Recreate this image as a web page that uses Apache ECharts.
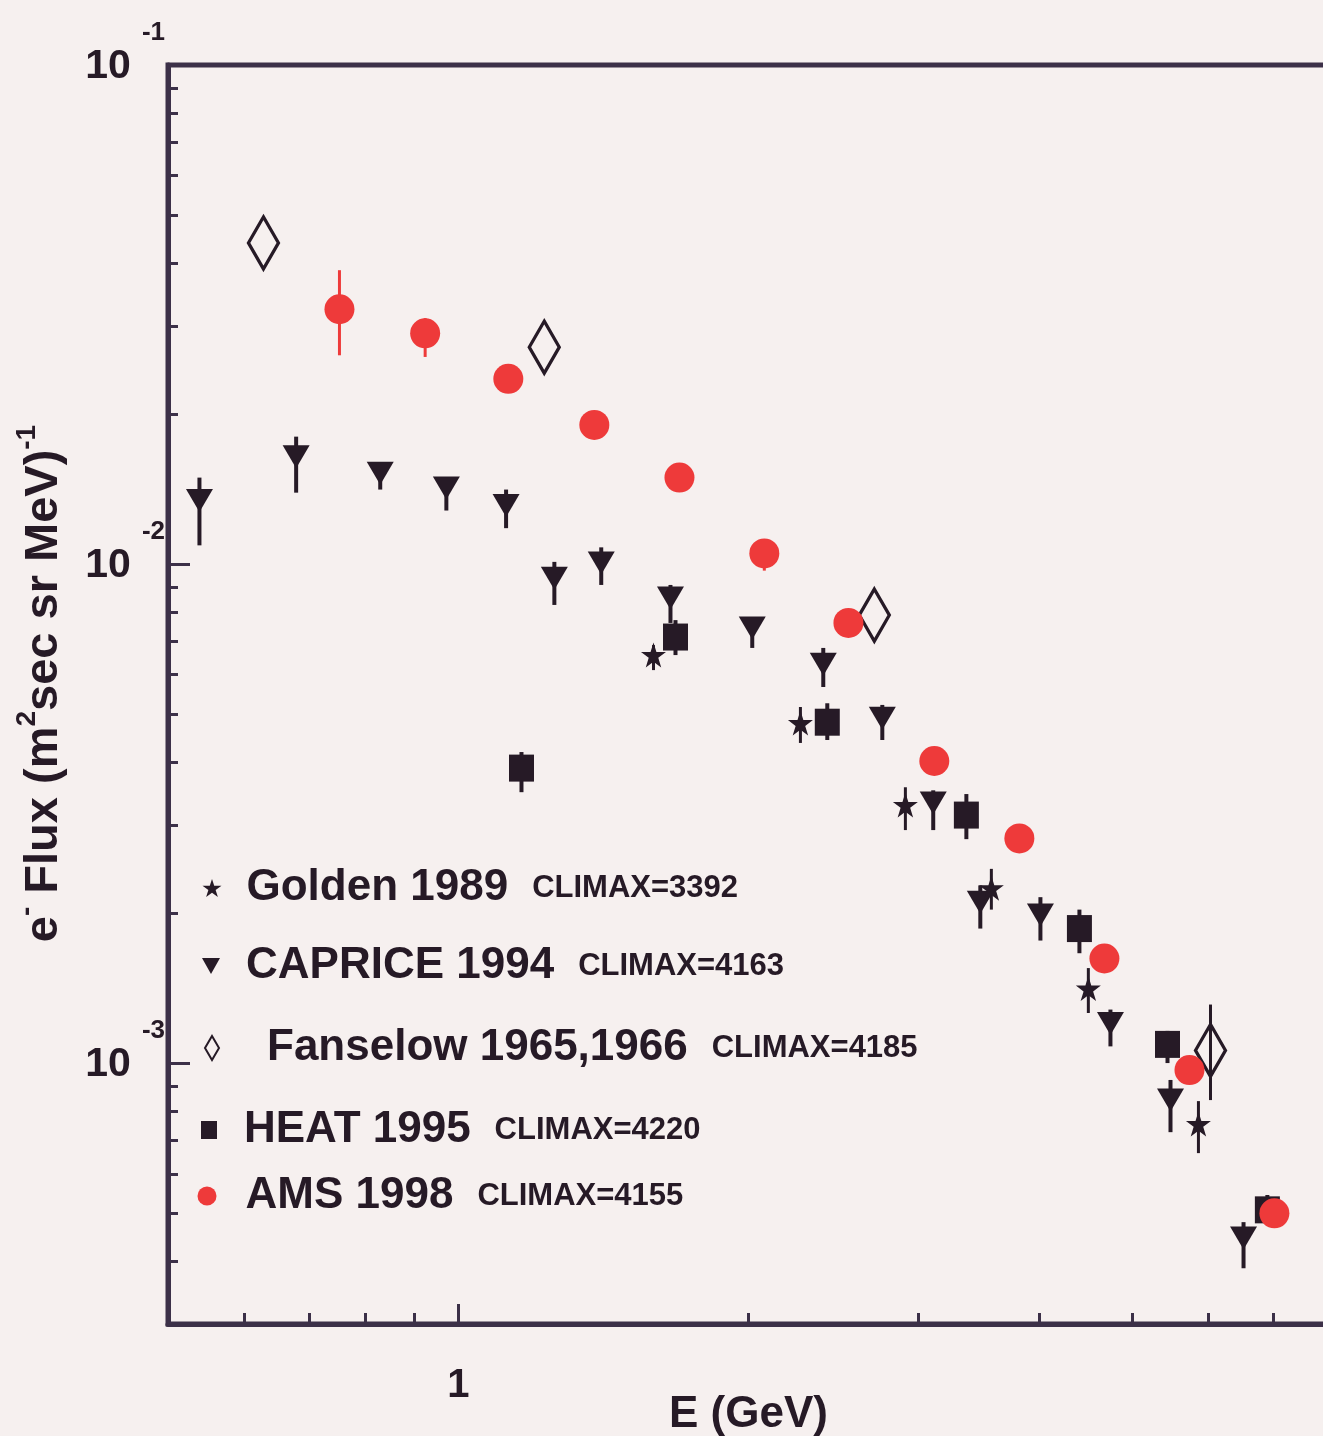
<!DOCTYPE html>
<html>
<head>
<meta charset="utf-8">
<script src="https://cdn.jsdelivr.net/npm/echarts@6/dist/echarts.min.js"></script>
<style>
html,body{margin:0;padding:0;background:#f6f0ef;}
#chart{width:1323px;height:1436px;}
</style>
</head>
<body>
<div id="chart"></div>
<script>
// ---------------- data ----------------
const seriesNames = ['Golden 1989', 'CAPRICE 1994', 'Fanselow 1965,1966', 'HEAT 1995', 'AMS 1998'];
const climaxLabels = ['CLIMAX=3392', 'CLIMAX=4163', 'CLIMAX=4185', 'CLIMAX=4220', 'CLIMAX=4155'];

// Golden 1989 (stars)
const goldenE    = [1.594, 2.264, 2.909, 3.572, 4.503, 5.857];
const goldenFlux = [0.00657, 0.00480, 0.00329, 0.00224, 0.00141, 0.000755];
const goldenHi   = [0.00688, 0.00517, 0.00357, 0.00245, 0.00155, 0.000839];
const goldenLo   = [0.00613, 0.00438, 0.00293, 0.00203, 0.00126, 0.000660];

// CAPRICE 1994 (down triangles)
const capriceE    = [0.539, 0.679, 0.830, 0.972, 1.121, 1.258, 1.407, 1.660, 2.018, 2.391, 2.753, 3.109, 3.479, 4.016, 4.747, 5.479, 6.523];
const capriceFlux = [0.0134, 0.0164, 0.0152, 0.0142, 0.0131, 0.00937, 0.01005, 0.00855, 0.00744, 0.00630, 0.00491, 0.00332, 0.00210, 0.00198, 0.00120, 0.000843, 0.000446];
const capriceHi   = [0.0149, 0.0180, 0.0160, 0.0149, 0.0141, 0.0101, 0.0108, 0.00908, 0.00780, 0.00679, 0.00522, 0.00352, 0.00227, 0.00215, 0.00128, 0.000925, 0.000480];
const capriceLo   = [0.0109, 0.0139, 0.0141, 0.0128, 0.0118, 0.00828, 0.00908, 0.00762, 0.00679, 0.00567, 0.00444, 0.00293, 0.00186, 0.00176, 0.00108, 0.000727, 0.000388];

// Fanselow 1965,1966 (open diamonds)
const fanselowE    = [0.628, 1.228, 2.701, 6.028];
const fanselowFlux = [0.0440, 0.0272, 0.00790, 0.00106];
const fanselowHi   = [0.0440, 0.0272, 0.00790, 0.00131];
const fanselowLo   = [0.0440, 0.0272, 0.00790, 0.000843];

// HEAT 1995 (squares)
const heatE    = [1.163, 1.680, 2.414, 3.365, 4.408, 5.440, 6.905];
const heatFlux = [0.00390, 0.00714, 0.00482, 0.00314, 0.00186, 0.00109, 0.000508];
const heatHi   = [0.00420, 0.00772, 0.00526, 0.00346, 0.00203, 0.00116, 0.000544];
const heatLo   = [0.00349, 0.00657, 0.00444, 0.00281, 0.00166, 0.00100, 0.000474];

// AMS 1998 (red circles)
const amsE    = [0.753, 0.924, 1.127, 1.384, 1.696, 2.077, 2.539, 3.117, 3.819, 4.679, 5.733, 7.022];
const amsFlux = [0.0324, 0.0290, 0.0235, 0.0190, 0.0149, 0.0105, 0.00762, 0.00403, 0.00282, 0.00162, 0.000968, 0.000500];
const amsHi   = [0.0388, 0.0311, 0.0235, 0.0190, 0.0149, 0.0105, 0.00762, 0.00403, 0.00282, 0.00162, 0.000968, 0.000500];
const amsLo   = [0.0262, 0.0260, 0.0235, 0.0190, 0.0149, 0.0097, 0.00762, 0.00403, 0.00282, 0.00162, 0.000968, 0.000500];

// axes
const xRange = [0.5, 8];
const yRange = [0.0003, 0.1];
const xMajorTicks = [1];
const xMajorLabels = ['1'];
const xMinorTicks = [0.6, 0.7, 0.8, 0.9, 2, 3, 4, 5, 6, 7];
const yMajorTicks = [0.001, 0.01, 0.1];
const yMajorExps = ['-3', '-2', '-1'];
const yMinorTicks = [0.0004, 0.0005, 0.0006, 0.0007, 0.0008, 0.0009,
                     0.002, 0.003, 0.004, 0.005, 0.006, 0.007, 0.008, 0.009,
                     0.02, 0.03, 0.04, 0.05, 0.06, 0.07, 0.08, 0.09];

// ---------------- style ----------------
const ink = '#261a26';
const frame = '#3c3048';
const red = '#ee3a3a';
const font = "'Liberation Sans', Arial, Helvetica, sans-serif";
const starPath = 'path://M50,2 L61,36 L97,36 L68,57 L79,92 L50,71 L21,92 L32,57 L3,36 L39,36 Z';
const triPath = 'path://M0,0 L100,0 L50,88 Z';

const zip = (a, b) => a.map((v, i) => [v, b[i]]);

function errorBars(id, E, lo, hi, color, width) {
  return {
    type: 'custom', name: id, silent: true, z: 3,
    data: E.map((e, i) => [e, lo[i], hi[i]]),
    encode: { x: 0, y: [1, 2] },
    renderItem: function (params, api) {
      const p1 = api.coord([api.value(0), api.value(1)]);
      const p2 = api.coord([api.value(0), api.value(2)]);
      return { type: 'line', shape: { x1: p1[0], y1: p1[1], x2: p2[0], y2: p2[1] },
               style: { stroke: color, lineWidth: width } };
    }
  };
}

function legendRow(idx, iconX, rowY, w, h, padA, extra) {
  return Object.assign({
    data: [seriesNames[idx]],
    orient: 'vertical',
    left: iconX - w / 2,
    top: rowY - 20,
    padding: 0,
    itemWidth: w,
    itemHeight: h,
    selectedMode: false,
    formatter: name => '{a|' + name + '}{b|' + climaxLabels[idx] + '}',
    textStyle: {
      color: ink, fontFamily: font,
      rich: {
        a: { fontSize: 44, fontWeight: 'bold', color: ink, fontFamily: font, padding: [0, 0, 0, padA] },
        b: { fontSize: 31, fontWeight: 'bold', color: ink, fontFamily: font, padding: [0, 0, 0, 24] }
      }
    }
  }, extra || {});
}

const chart = echarts.init(document.getElementById('chart'), null, { renderer: 'canvas' });

const option = {
  backgroundColor: '#f6f0ef',
  animation: false,
  grid: {
    left: 168, top: 65, width: 1161, height: 1259,
    outerBoundsMode: 'none', containLabel: false,
    show: true, borderColor: frame, borderWidth: 5, backgroundColor: 'transparent'
  },
  legend: [
    legendRow(0, 212, 886, 19, 19, 20),
    legendRow(1, 211, 964, 18, 17, 21),
    legendRow(2, 211, 1046, 14, 24, 43, { itemStyle: { borderWidth: 2 } }),
    legendRow(3, 209, 1128, 16, 18, 22),
    legendRow(4, 207, 1194, 19, 19, 24)
  ],
  xAxis: [
    {
      type: 'log', logBase: 10, min: xRange[0], max: xRange[1], position: 'bottom',
      name: 'E (GeV)', nameLocation: 'middle', nameGap: 69, nameMoveOverlap: false,
      nameTextStyle: { fontSize: 44, fontWeight: 'bold', color: ink, fontFamily: font },
      axisLine: { show: true, lineStyle: { color: frame, width: 5 } },
      axisTick: { show: true, inside: true, length: 20, lineStyle: { color: frame, width: 3 }, customValues: xMajorTicks },
      axisLabel: {
        show: true, customValues: xMajorTicks, margin: 42,
        formatter: v => xMajorLabels[xMajorTicks.indexOf(v)] || String(v),
        fontSize: 40, fontWeight: 'bold', color: ink, fontFamily: font
      },
      splitLine: { show: false }, minorTick: { show: false }
    },
    {
      type: 'log', logBase: 10, min: xRange[0], max: xRange[1], position: 'bottom',
      axisLine: { show: false },
      axisTick: { show: true, inside: true, length: 11, lineStyle: { color: frame, width: 3 }, customValues: xMinorTicks },
      axisLabel: { show: false },
      splitLine: { show: false }
    }
  ],
  yAxis: [
    {
      type: 'log', logBase: 10, min: yRange[0], max: yRange[1], position: 'left',
      name: '{e|e}{s|-}{n| Flux (m}{s|2}{n|sec sr MeV)}{s|-1}',
      nameLocation: 'middle', nameRotate: 90, nameGap: 100, nameMoveOverlap: false,
      nameTextStyle: {
        color: ink, fontFamily: font,
        rich: {
          e: { fontSize: 47, fontWeight: 'bold', color: ink, fontFamily: font, padding: [8, 0, 0, 22] },
          n: { fontSize: 47, fontWeight: 'bold', color: ink, fontFamily: font, padding: [8, 0, 0, 0] },
          s: { fontSize: 28, fontWeight: 'bold', color: ink, fontFamily: font, verticalAlign: 'top' }
        }
      },
      axisLine: { show: true, lineStyle: { color: frame, width: 5 } },
      axisTick: { show: true, inside: true, length: 22, lineStyle: { color: frame, width: 3 }, customValues: yMajorTicks },
      axisLabel: {
        show: true, customValues: yMajorTicks, margin: 3,
        formatter: v => '{b|10}{s|' + yMajorExps[yMajorTicks.findIndex(t => Math.abs(t - v) / t < 1e-6)] + '}',
        rich: {
          b: { fontSize: 41, fontWeight: 'bold', color: ink, fontFamily: font, padding: [30, 11, 26, 0] },
          s: { fontSize: 26, fontWeight: 'bold', color: ink, fontFamily: font, verticalAlign: 'top', padding: [3, 0, 0, 0] }
        }
      },
      splitLine: { show: false }, minorTick: { show: false }
    },
    {
      type: 'log', logBase: 10, min: yRange[0], max: yRange[1], position: 'left',
      axisLine: { show: false },
      axisTick: { show: true, inside: true, length: 10, lineStyle: { color: frame, width: 3 }, customValues: yMinorTicks },
      axisLabel: { show: false },
      splitLine: { show: false }
    }
  ],
  series: [
    errorBars('golden-err', goldenE, goldenLo, goldenHi, ink, 3),
    errorBars('caprice-err', capriceE, capriceLo, capriceHi, ink, 4),
    errorBars('fanselow-err', fanselowE, fanselowLo, fanselowHi, ink, 3),
    errorBars('heat-err', heatE, heatLo, heatHi, ink, 4),
    errorBars('ams-err', amsE, amsLo, amsHi, red, 3),
    {
      name: seriesNames[1], type: 'scatter', z: 4, symbol: triPath, symbolSize: [27, 23],
      itemStyle: { color: ink, opacity: 1 }, data: zip(capriceE, capriceFlux)
    },
    {
      name: seriesNames[0], type: 'scatter', z: 4, symbol: starPath, symbolSize: 25,
      itemStyle: { color: ink, opacity: 1 }, data: zip(goldenE, goldenFlux)
    },
    {
      name: seriesNames[3], type: 'scatter', z: 4, symbol: 'rect', symbolSize: [25, 27],
      itemStyle: { color: ink, opacity: 1 }, data: zip(heatE, heatFlux)
    },
    {
      name: seriesNames[2], type: 'scatter', z: 5, symbol: 'diamond', symbolSize: [30, 52],
      itemStyle: { color: 'rgba(0,0,0,0)', borderColor: ink, borderWidth: 3.5, opacity: 1 },
      data: zip(fanselowE, fanselowFlux)
    },
    {
      name: seriesNames[4], type: 'scatter', z: 6, symbol: 'circle', symbolSize: 30,
      itemStyle: { color: red, opacity: 1 }, data: zip(amsE, amsFlux)
    }
  ]
};
chart.setOption(option);
</script>
</body>
</html>
